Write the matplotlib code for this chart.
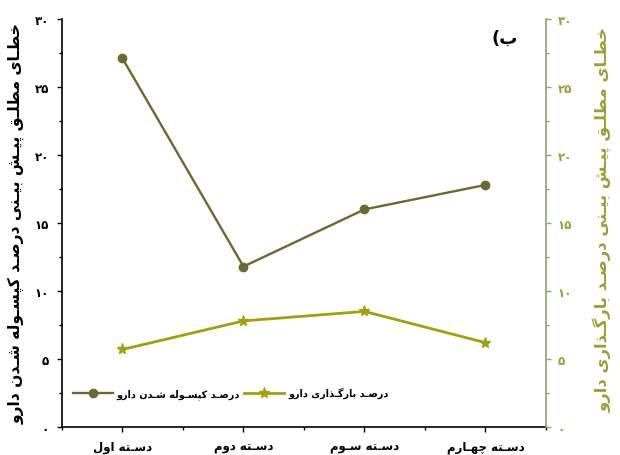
import matplotlib
matplotlib.use("Agg")
import matplotlib.pyplot as plt
from matplotlib.ticker import MultipleLocator, FixedLocator, FuncFormatter

# ---- data -------------------------------------------------------------
groups = ["دسـته اول", "دسـته دوم", "دسـته سـوم", "دسـته چهـارم"]
encapsulation = [27.1, 11.8, 16.0, 17.8]   # left axis
loading = [5.7, 7.8, 8.5, 6.2]             # right axis
series_names = ["درصـد کپسـوله شـدن دارو", "درصـد بارگـذاری دارو"]
left_label = "خطـای مطلـق پیـش بیـنی درصـد کپسـوله شـدن دارو"
right_label = "خطـای مطلـق پیـش بیـنی درصـد بارگـذاری دارو"
panel_tag = "ب)"

# ---- minimal Arabic-script shaping (matplotlib has no text shaping) -----
# isolated, final, initial, medial
FORMS = {
    "ا": ("\uFE8D", "\uFE8E", None, None),
    "ب": ("\uFE8F", "\uFE90", "\uFE91", "\uFE92"),
    "پ": ("\uFB56", "\uFB57", "\uFB58", "\uFB59"),
    "ت": ("\uFE95", "\uFE96", "\uFE97", "\uFE98"),
    "ث": ("\uFE99", "\uFE9A", "\uFE9B", "\uFE9C"),
    "ج": ("\uFE9D", "\uFE9E", "\uFE9F", "\uFEA0"),
    "چ": ("\uFB7A", "\uFB7B", "\uFB7C", "\uFB7D"),
    "ح": ("\uFEA1", "\uFEA2", "\uFEA3", "\uFEA4"),
    "خ": ("\uFEA5", "\uFEA6", "\uFEA7", "\uFEA8"),
    "د": ("\uFEA9", "\uFEAA", None, None),
    "ذ": ("\uFEAB", "\uFEAC", None, None),
    "ر": ("\uFEAD", "\uFEAE", None, None),
    "ز": ("\uFEAF", "\uFEB0", None, None),
    "ژ": ("\uFB8A", "\uFB8B", None, None),
    "س": ("\uFEB1", "\uFEB2", "\uFEB3", "\uFEB4"),
    "ش": ("\uFEB5", "\uFEB6", "\uFEB7", "\uFEB8"),
    "ص": ("\uFEB9", "\uFEBA", "\uFEBB", "\uFEBC"),
    "ض": ("\uFEBD", "\uFEBE", "\uFEBF", "\uFEC0"),
    "ط": ("\uFEC1", "\uFEC2", "\uFEC3", "\uFEC4"),
    "ظ": ("\uFEC5", "\uFEC6", "\uFEC7", "\uFEC8"),
    "ع": ("\uFEC9", "\uFECA", "\uFECB", "\uFECC"),
    "غ": ("\uFECD", "\uFECE", "\uFECF", "\uFED0"),
    "ف": ("\uFED1", "\uFED2", "\uFED3", "\uFED4"),
    "ق": ("\uFED5", "\uFED6", "\uFED7", "\uFED8"),
    "ک": ("\uFB8E", "\uFB8F", "\uFB90", "\uFB91"),
    "گ": ("\uFB92", "\uFB93", "\uFB94", "\uFB95"),
    "ل": ("\uFEDD", "\uFEDE", "\uFEDF", "\uFEE0"),
    "م": ("\uFEE1", "\uFEE2", "\uFEE3", "\uFEE4"),
    "ن": ("\uFEE5", "\uFEE6", "\uFEE7", "\uFEE8"),
    "ه": ("\uFEE9", "\uFEEA", "\uFEEB", "\uFEEC"),
    "و": ("\uFEED", "\uFEEE", None, None),
    "ی": ("\uFBFC", "\uFBFD", "\uFBFE", "\uFBFF"),
}
TATWEEL = "\u0640"
MIRROR = {"(": ")", ")": "("}


def _links_forward(ch):
    if ch == TATWEEL:
        return True
    f = FORMS.get(ch)
    return f is not None and f[2] is not None


def _joins(ch):
    return ch == TATWEEL or ch in FORMS


def fa(text):
    """Return the visual (left-to-right) glyph string for a Persian phrase."""
    out = []
    for i, ch in enumerate(text):
        if ch not in FORMS:
            out.append(MIRROR.get(ch, ch))
            continue
        prev = text[i - 1] if i > 0 else None
        nxt = text[i + 1] if i + 1 < len(text) else None
        jp = prev is not None and _links_forward(prev)
        jn = nxt is not None and _joins(nxt) and FORMS[ch][2] is not None
        iso, fin, ini, med = FORMS[ch]
        if jp and jn:
            out.append(med)
        elif jp:
            out.append(fin)
        elif jn:
            out.append(ini)
        else:
            out.append(iso)
    return "".join(reversed(out))


def fa_digits(v, _pos=None):
    return "".join(chr(0x06F0 + int(d)) if d.isdigit() else d for d in f"{v:g}")


# ---- figure -----------------------------------------------------------
plt.rcParams["font.family"] = ["DejaVu Sans"]
plt.rcParams["font.weight"] = "bold"

c_enc = "#6b6a2e"
c_load = "#a3a10a"
c_axis2 = "#8fa468"
c_label2 = "#9aa031"

fig = plt.figure(figsize=(6.2, 4.56), dpi=100)
ax = fig.add_axes([0.1, 0.0614, 0.7806, 0.8947])
ax2 = ax.twinx()

x = list(range(1, len(groups) + 1))
l1, = ax.plot(x, encapsulation, color=c_enc, lw=1.7, marker="o", ms=6,
              label=fa(series_names[0]))
l2, = ax2.plot(x, loading, color=c_load, lw=2.0, marker="*", ms=8,
               label=fa(series_names[1]))

for a in (ax, ax2):
    a.set_ylim(0, 30)
    a.yaxis.set_major_locator(MultipleLocator(5))
    a.yaxis.set_minor_locator(MultipleLocator(2.5))
    a.yaxis.set_major_formatter(FuncFormatter(fa_digits))
ax.set_xlim(0.5, len(groups) + 0.5)
ax.xaxis.set_major_locator(FixedLocator(x))
ax.xaxis.set_minor_locator(FixedLocator([i + 0.5 for i in range(len(groups) + 1)]))
ax.set_xticklabels([fa(g) for g in groups], fontsize=8.5, fontweight="bold")

ax.spines["top"].set_visible(False)
ax.spines["right"].set_visible(False)
for s in ("top", "left", "bottom"):
    ax2.spines[s].set_visible(False)
ax2.spines["right"].set_color(c_axis2)
ax2.spines["right"].set_linewidth(1.2)
ax.spines["left"].set_linewidth(1.2)
ax.spines["bottom"].set_linewidth(1.2)

ax.tick_params(axis="y", which="major", direction="out", length=3.5, width=1, pad=6,
               labelsize=8.5)
ax.tick_params(axis="y", which="minor", direction="out", length=2, width=1)
ax.tick_params(axis="x", which="major", direction="out", length=3.5, width=1, pad=6)
ax.tick_params(axis="x", which="minor", direction="out", length=2, width=1)
ax2.tick_params(axis="y", which="major", direction="out", length=3.5, width=1, pad=5,
                labelsize=8.5, color=c_axis2, labelcolor=c_label2)
ax2.tick_params(axis="y", which="minor", direction="out", length=2, width=1,
                color=c_axis2)

ax.set_ylabel(fa(left_label), fontsize=11.2, fontweight="bold", labelpad=7)
ax2.set_ylabel(fa(right_label), fontsize=11.8, fontweight="bold", color=c_label2,
               rotation=90, labelpad=14)
ax2.yaxis.set_label_coords(1.097, 0.51)

ax.text(0.915, 0.955, fa(panel_tag), transform=ax.transAxes, fontsize=13,
        fontweight="bold", ha="center", va="center")

ax.legend(handles=[l1, l2], ncol=2, loc="center left", bbox_to_anchor=(0.012, 0.083),
          frameon=False, fontsize=6.9, handlelength=4.2, handletextpad=0.4,
          columnspacing=0.4, borderaxespad=0.3, borderpad=0.2)

fig.savefig("out.png", dpi=100)
